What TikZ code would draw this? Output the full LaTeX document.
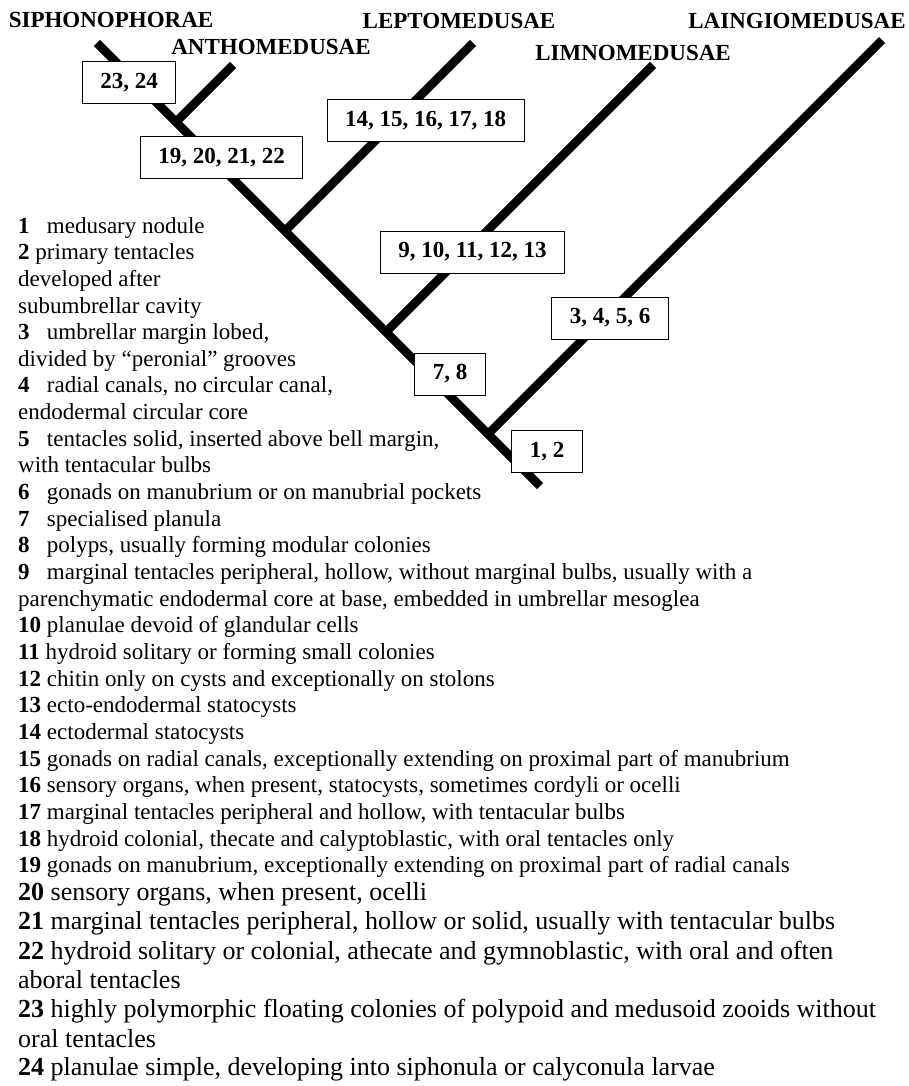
\documentclass[tikz,border=0pt]{standalone}
\usepackage{fontspec}
\setmainfont{Liberation Serif}

\newcommand{\itemno}[1]{\makebox[1.25em][l]{\textbf{#1}}}

\tikzset{
  branch/.style={line width=8.5pt, line cap=butt},
  chars/.style={draw, fill=white, line width=1pt, inner xsep=18pt, minimum height=42pt, font=\fontsize{23}{27}\selectfont\bfseries},
  clade/.style={anchor=base, inner sep=0pt, font=\fontsize{23}{27}\selectfont\bfseries},
  legend/.style={anchor=base west, inner sep=0pt, font=\fontsize{23}{27}\selectfont},
  legendbig/.style={legend, font=\fontsize{26}{29}\selectfont},
}

\begin{document}
\begin{tikzpicture}[x=1pt, y=-1pt]
\useasboundingbox (0,0) rectangle (909,1086);

% clade names
\node[clade] (siph) at (111,28) {SIPHONOPHORAE};
\node[clade] (antho) at (271,55) {ANTHOMEDUSAE};
\node[clade] (lepto) at (459,29) {LEPTOMEDUSAE};
\node[clade] (limno) at (633,61) {LIMNOMEDUSAE};
\node[clade] (laingio) at (797,29) {LAINGIOMEDUSAE};

% tips and branching points
\coordinate (siphtip) at (97,43);
\coordinate (root) at (540,486);
\coordinate (anthotip) at (233,65);
\coordinate (anthoj) at (176,122);
\coordinate (leptotip) at (473,43);
\coordinate (leptoj) at (285,231);
\coordinate (limnotip) at (653,65);
\coordinate (limnoj) at (386,332);
\coordinate (laingiotip) at (882,40);
\coordinate (laingioj) at (488,434);

\draw[branch] (siphtip) -- (root);
\draw[branch] (anthoj) -- (anthotip);
\draw[branch] (leptoj) -- (leptotip);
\draw[branch] (limnoj) -- (limnotip);
\draw[branch] (laingioj) -- (laingiotip);

% character boxes
\node[chars] (c2324) at (129,82.5) {23, 24};
\node[chars] (c1922) at (221.5,158) {19, 20, 21, 22};
\node[chars] (c1418) at (425.5,121) {14, 15, 16, 17, 18};
\node[chars] (c913) at (472.5,252) {9, 10, 11, 12, 13};
\node[chars] (c36) at (610,318) {3, 4, 5, 6};
\node[chars] (c78) at (450,374) {7, 8};
\node[chars] (c12) at (547,451.5) {1, 2};

% legend
\node[legend] (l1) at (18,233) {\itemno{1}medusary nodule};
\node[legend] (l2) at (18,259.7) {\textbf{2} primary tentacles};
\node[legend] (l3) at (18,286.3) {developed after};
\node[legend] (l4) at (18,313) {subumbrellar cavity};
\node[legend] (l5) at (18,339.6) {\itemno{3}umbrellar margin lobed,};
\node[legend] (l6) at (18,366.3) {divided by “peronial” grooves};
\node[legend] (l7) at (18,392.9) {\itemno{4}radial canals, no circular canal,};
\node[legend] (l8) at (18,419.6) {endodermal circular core};
\node[legend] (l9) at (18,446.2) {\itemno{5}tentacles solid, inserted above bell margin,};
\node[legend] (l10) at (18,472.9) {with tentacular bulbs};
\node[legend] (l11) at (18,499.5) {\itemno{6}gonads on manubrium or on manubrial pockets};
\node[legend] (l12) at (18,526.2) {\itemno{7}specialised planula};
\node[legend] (l13) at (18,552.8) {\itemno{8}polyps, usually forming modular colonies};
\node[legend] (l14) at (18,579.5) {\itemno{9}marginal tentacles peripheral, hollow, without marginal bulbs, usually with a};
\node[legend] (l15) at (18,606.1) {parenchymatic endodermal core at base, embedded in umbrellar mesoglea};
\node[legend] (l16) at (18,632.8) {\textbf{10} planulae devoid of glandular cells};
\node[legend] (l17) at (18,659.4) {\textbf{11} hydroid solitary or forming small colonies};
\node[legend] (l18) at (18,686.1) {\textbf{12} chitin only on cysts and exceptionally on stolons};
\node[legend] (l19) at (18,712.7) {\textbf{13} ecto-endodermal statocysts};
\node[legend] (l20) at (18,739.4) {\textbf{14} ectodermal statocysts};
\node[legend] (l21) at (18,766) {\textbf{15} gonads on radial canals, exceptionally extending on proximal part of manubrium};
\node[legend] (l22) at (18,792.7) {\textbf{16} sensory organs, when present, statocysts, sometimes cordyli or ocelli};
\node[legend] (l23) at (18,819.3) {\textbf{17} marginal tentacles peripheral and hollow, with tentacular bulbs};
\node[legend] (l24) at (18,846) {\textbf{18} hydroid colonial, thecate and calyptoblastic, with oral tentacles only};
\node[legend] (l25) at (18,872.6) {\textbf{19} gonads on manubrium, exceptionally extending on proximal part of radial canals};
\node[legendbig] (l26) at (18,900) {\textbf{20} sensory organs, when present, ocelli};
\node[legendbig] (l27) at (18,929.5) {\textbf{21} marginal tentacles peripheral, hollow or solid, usually with tentacular bulbs};
\node[legendbig] (l28) at (18,959) {\textbf{22} hydroid solitary or colonial, athecate and gymnoblastic, with oral and often};
\node[legendbig] (l29) at (18,988) {aboral tentacles};
\node[legendbig] (l30) at (18,1017.5) {\textbf{23} highly polymorphic floating colonies of polypoid and medusoid zooids without};
\node[legendbig] (l31) at (18,1047) {oral tentacles};
\node[legendbig] (l32) at (18,1075) {\textbf{24} planulae simple, developing into siphonula or calyconula larvae};
\end{tikzpicture}
\end{document}
